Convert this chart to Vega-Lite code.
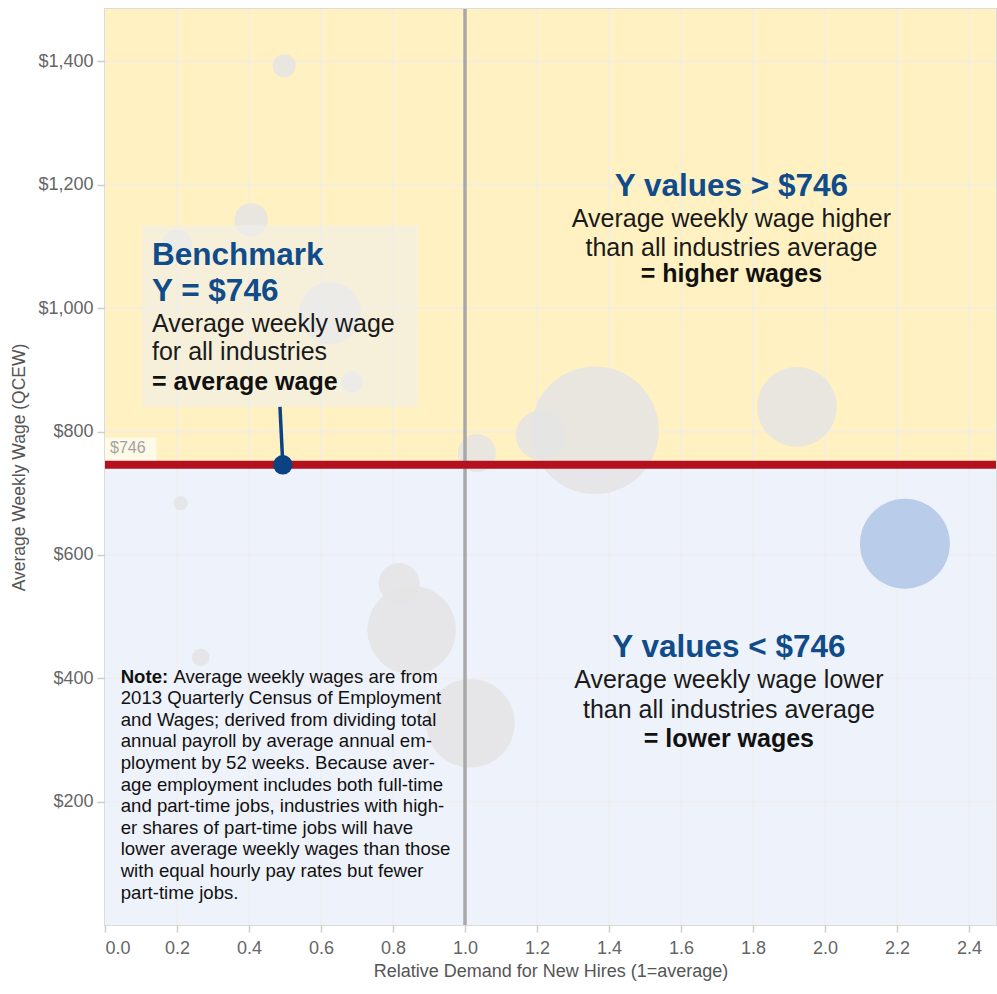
{
  "$schema": "https://vega.github.io/schema/vega-lite/v6.json",
  "width": 891,
  "height": 916,
  "autosize": "none",
  "padding": {"left": 105, "top": 9, "right": 1, "bottom": 69},
  "background": "white",
  "config": {
    "font": "Liberation Sans",
    "view": {"stroke": "#dcdcdc", "strokeWidth": 2}
  },
  "datasets": {
    "zones": [
      {"zone": "above", "x0": 0, "x1": 2.475, "y0": 746, "y1": 1485},
      {"zone": "below", "x0": 0, "x1": 2.475, "y0": 0, "y1": 746}
    ],
    "grid": [
      {"gx": 0.2}, {"gx": 0.4}, {"gx": 0.6}, {"gx": 0.8}, {"gx": 1.2}, {"gx": 1.4},
      {"gx": 1.6}, {"gx": 1.8}, {"gx": 2.0}, {"gx": 2.2}, {"gx": 2.4},
      {"gy": 200}, {"gy": 400}, {"gy": 600}, {"gy": 800}, {"gy": 1000}, {"gy": 1200}, {"gy": 1400}
    ],
    "industries": [
      {"id": 1, "demand": 1.361, "wage": 802, "employment": 2000, "group": "Other"},
      {"id": 2, "demand": 2.222, "wage": 618, "employment": 992, "group": "Highlighted"},
      {"id": 3, "demand": 0.852, "wage": 478, "employment": 965, "group": "Other"},
      {"id": 4, "demand": 1.015, "wage": 327, "employment": 965, "group": "Other"},
      {"id": 5, "demand": 1.922, "wage": 840, "employment": 781, "group": "Other"},
      {"id": 6, "demand": 0.625, "wage": 992, "employment": 473, "group": "Other"},
      {"id": 7, "demand": 1.21, "wage": 794, "employment": 302, "group": "Other"},
      {"id": 8, "demand": 0.817, "wage": 554, "employment": 204, "group": "Other"},
      {"id": 9, "demand": 1.033, "wage": 765, "employment": 178, "group": "Other"},
      {"id": 10, "demand": 0.406, "wage": 1143, "employment": 139, "group": "Other"},
      {"id": 11, "demand": 0.2, "wage": 1103, "employment": 111, "group": "Other"},
      {"id": 12, "demand": 0.498, "wage": 1393, "employment": 65, "group": "Other"},
      {"id": 13, "demand": 0.686, "wage": 880, "employment": 56, "group": "Other"},
      {"id": 14, "demand": 0.266, "wage": 434, "employment": 39, "group": "Other"},
      {"id": 15, "demand": 0.21, "wage": 684, "employment": 25, "group": "Other"}
    ],
    "labels": [
      {"k": "bh", "x": 0.1306, "y": 1070, "t": "Benchmark"},
      {"k": "bh", "x": 0.1306, "y": 1011, "t": "Y = $746"},
      {"k": "bb", "x": 0.1306, "y": 962, "t": "Average weekly wage"},
      {"k": "bb", "x": 0.1306, "y": 916, "t": "for all industries"},
      {"k": "bs", "x": 0.1306, "y": 868, "t": "= average wage"},
      {"k": "qh", "x": 1.74, "y": 1182, "t": "Y values > $746"},
      {"k": "qb", "x": 1.74, "y": 1132, "t": "Average weekly wage higher"},
      {"k": "qb", "x": 1.74, "y": 1084, "t": "than all industries average"},
      {"k": "qs", "x": 1.74, "y": 1043, "t": "= higher wages"},
      {"k": "qh", "x": 1.733, "y": 435, "t": "Y values < $746"},
      {"k": "qb", "x": 1.733, "y": 384, "t": "Average weekly wage lower"},
      {"k": "qb", "x": 1.733, "y": 335, "t": "than all industries average"},
      {"k": "qs", "x": 1.733, "y": 289, "t": "= lower wages"},
      {"k": "nb", "x": 0.0436, "y": 392.5, "t": "Note:"},
      {"k": "nr", "x": 0.19, "y": 392.5, "t": "Average weekly wages are from"},
      {"k": "nr", "x": 0.0436, "y": 357.8, "t": [
        "2013 Quarterly Census of Employment",
        "and Wages; derived from dividing total",
        "annual payroll by average annual em-",
        "ployment by 52 weeks. Because aver-",
        "age employment includes both full-time",
        "and part-time jobs, industries with high-",
        "er shares of part-time jobs will have",
        "lower average weekly wages than those",
        "with equal hourly pay rates but fewer",
        "part-time jobs."
      ]},
      {"k": "ref", "x": 0.0139, "y": 765.5, "t": "$746"}
    ]
  },
  "layer": [
    {
      "data": {"name": "zones"},
      "transform": [{"filter": "datum.zone === 'above'"}],
      "mark": {"type": "rect", "fill": "#fff1c2"},
      "encoding": {
        "x": {
          "field": "x0", "type": "quantitative",
          "scale": {"domain": [0, 2.475], "nice": false, "zero": false},
          "axis": {
            "title": "Relative Demand for New Hires (1=average)",
            "values": [0, 0.2, 0.4, 0.6, 0.8, 1.0, 1.2, 1.4, 1.6, 1.8, 2.0, 2.2, 2.4],
            "format": ".1f",
            "grid": false, "domain": false,
            "tickColor": "#cccccc", "tickSize": 7, "tickWidth": 1.5,
            "labelPadding": 7, "labelFontSize": 18, "labelColor": "#666666",
            "labelFont": "Liberation Sans",
            "titleFont": "Liberation Sans", "titleFontSize": 18, "titleFontWeight": "normal",
            "titleColor": "#555555", "titlePadding": 5
          }
        },
        "x2": {"field": "x1"},
        "y": {
          "field": "y0", "type": "quantitative",
          "scale": {"domain": [0, 1485], "nice": false, "zero": false},
          "axis": {
            "title": "Average Weekly Wage (QCEW)",
            "values": [200, 400, 600, 800, 1000, 1200, 1400],
            "format": "$,.0f",
            "grid": false, "domain": false,
            "tickColor": "#cccccc", "tickSize": 8, "tickWidth": 1.5,
            "labelPadding": 4, "labelFontSize": 18, "labelColor": "#666666",
            "labelFont": "Liberation Sans",
            "titleFont": "Liberation Sans", "titleFontSize": 17.5, "titleFontWeight": "normal",
            "titleColor": "#555555", "titlePadding": 9
          }
        },
        "y2": {"field": "y1"}
      }
    },
    {
      "data": {"name": "zones"},
      "transform": [{"filter": "datum.zone === 'below'"}],
      "mark": {"type": "rect", "fill": "#eef2fa"},
      "encoding": {
        "x": {"field": "x0", "type": "quantitative"},
        "x2": {"field": "x1"},
        "y": {"field": "y0", "type": "quantitative"},
        "y2": {"field": "y1"}
      }
    },
    {
      "data": {"name": "grid"},
      "transform": [{"filter": "isValid(datum.gx)"}],
      "mark": {"type": "rule", "color": "#ececec", "opacity": 0.6, "strokeWidth": 2},
      "encoding": {"x": {"field": "gx", "type": "quantitative"}}
    },
    {
      "data": {"name": "grid"},
      "transform": [{"filter": "isValid(datum.gy)"}],
      "mark": {"type": "rule", "color": "#ececec", "opacity": 0.6, "strokeWidth": 2},
      "encoding": {"y": {"field": "gy", "type": "quantitative"}}
    },
    {
      "data": {"name": "industries"},
      "mark": {"type": "circle", "opacity": 0.85, "strokeWidth": 0},
      "encoding": {
        "x": {"field": "demand", "type": "quantitative"},
        "y": {"field": "wage", "type": "quantitative"},
        "size": {
          "field": "employment", "type": "quantitative",
          "scale": {"type": "linear", "zero": true, "domain": [0, 2000], "range": [0, 16286]},
          "legend": null
        },
        "color": {
          "field": "group", "type": "nominal",
          "scale": {"domain": ["Other", "Highlighted"], "range": ["#e4e4e4", "#afc6e6"]},
          "legend": null
        },
        "order": {"field": "employment", "sort": "descending"}
      }
    },
    {
      "data": {"values": [{"x0": 0.103, "x1": 0.869, "y0": 840, "y1": 1134}]},
      "mark": {"type": "rect", "fill": "#eeeeee", "opacity": 0.55},
      "encoding": {
        "x": {"field": "x0", "type": "quantitative"},
        "x2": {"field": "x1"},
        "y": {"field": "y0", "type": "quantitative"},
        "y2": {"field": "y1"}
      }
    },
    {
      "data": {"values": [{"x0": 0, "x1": 0.143, "y0": 752, "y1": 790}]},
      "mark": {"type": "rect", "fill": "#ffffff", "opacity": 0.6},
      "encoding": {
        "x": {"field": "x0", "type": "quantitative"},
        "x2": {"field": "x1"},
        "y": {"field": "y0", "type": "quantitative"},
        "y2": {"field": "y1"}
      }
    },
    {
      "data": {"values": [{"ref": 1}]},
      "mark": {"type": "rule", "color": "#a8a8a8", "strokeWidth": 3.5},
      "encoding": {"x": {"field": "ref", "type": "quantitative"}}
    },
    {
      "data": {"values": [{"bench": 746}]},
      "mark": {"type": "rule", "color": "#b3111e", "strokeWidth": 8},
      "encoding": {"y": {"field": "bench", "type": "quantitative"}}
    },
    {
      "data": {"values": [{"x": 0.486, "y": 840, "o": 1}, {"x": 0.494, "y": 746, "o": 2}]},
      "mark": {"type": "line", "color": "#0b4382", "strokeWidth": 3.5},
      "encoding": {
        "x": {"field": "x", "type": "quantitative"},
        "y": {"field": "y", "type": "quantitative"},
        "order": {"field": "o"}
      }
    },
    {
      "data": {"values": [{"x": 0.494, "y": 746}]},
      "mark": {"type": "circle", "color": "#0b4382", "opacity": 1, "size": 380},
      "encoding": {
        "x": {"field": "x", "type": "quantitative"},
        "y": {"field": "y", "type": "quantitative"}
      }
    },
    {
      "data": {"name": "labels"},
      "transform": [{"filter": "datum.k === 'bh'"}],
      "mark": {"type": "text", "align": "left", "baseline": "alphabetic", "fontSize": 31.5, "fontWeight": "bold", "color": "#104b8a"},
      "encoding": {
        "x": {"field": "x", "type": "quantitative"},
        "y": {"field": "y", "type": "quantitative"},
        "text": {"field": "t", "type": "nominal"}
      }
    },
    {
      "data": {"name": "labels"},
      "transform": [{"filter": "datum.k === 'bb'"}],
      "mark": {"type": "text", "align": "left", "baseline": "alphabetic", "fontSize": 25, "color": "#1a1a1a"},
      "encoding": {
        "x": {"field": "x", "type": "quantitative"},
        "y": {"field": "y", "type": "quantitative"},
        "text": {"field": "t", "type": "nominal"}
      }
    },
    {
      "data": {"name": "labels"},
      "transform": [{"filter": "datum.k === 'bs'"}],
      "mark": {"type": "text", "align": "left", "baseline": "alphabetic", "fontSize": 25, "fontWeight": "bold", "color": "#111111"},
      "encoding": {
        "x": {"field": "x", "type": "quantitative"},
        "y": {"field": "y", "type": "quantitative"},
        "text": {"field": "t", "type": "nominal"}
      }
    },
    {
      "data": {"name": "labels"},
      "transform": [{"filter": "datum.k === 'qh'"}],
      "mark": {"type": "text", "align": "center", "baseline": "alphabetic", "fontSize": 31.5, "fontWeight": "bold", "color": "#104b8a"},
      "encoding": {
        "x": {"field": "x", "type": "quantitative"},
        "y": {"field": "y", "type": "quantitative"},
        "text": {"field": "t", "type": "nominal"}
      }
    },
    {
      "data": {"name": "labels"},
      "transform": [{"filter": "datum.k === 'qb'"}],
      "mark": {"type": "text", "align": "center", "baseline": "alphabetic", "fontSize": 25, "color": "#1a1a1a"},
      "encoding": {
        "x": {"field": "x", "type": "quantitative"},
        "y": {"field": "y", "type": "quantitative"},
        "text": {"field": "t", "type": "nominal"}
      }
    },
    {
      "data": {"name": "labels"},
      "transform": [{"filter": "datum.k === 'qs'"}],
      "mark": {"type": "text", "align": "center", "baseline": "alphabetic", "fontSize": 25, "fontWeight": "bold", "color": "#111111"},
      "encoding": {
        "x": {"field": "x", "type": "quantitative"},
        "y": {"field": "y", "type": "quantitative"},
        "text": {"field": "t", "type": "nominal"}
      }
    },
    {
      "data": {"name": "labels"},
      "transform": [{"filter": "datum.k === 'nb'"}],
      "mark": {"type": "text", "align": "left", "baseline": "alphabetic", "fontSize": 18.6, "fontWeight": "bold", "color": "#111111"},
      "encoding": {
        "x": {"field": "x", "type": "quantitative"},
        "y": {"field": "y", "type": "quantitative"},
        "text": {"field": "t", "type": "nominal"}
      }
    },
    {
      "data": {"name": "labels"},
      "transform": [{"filter": "datum.k === 'nr'"}],
      "mark": {"type": "text", "align": "left", "baseline": "alphabetic", "fontSize": 18.6, "lineHeight": 21.6, "color": "#111111"},
      "encoding": {
        "x": {"field": "x", "type": "quantitative"},
        "y": {"field": "y", "type": "quantitative"},
        "text": {"field": "t", "type": "nominal"}
      }
    },
    {
      "data": {"name": "labels"},
      "transform": [{"filter": "datum.k === 'ref'"}],
      "mark": {"type": "text", "align": "left", "baseline": "alphabetic", "fontSize": 16, "color": "#a3a3a3"},
      "encoding": {
        "x": {"field": "x", "type": "quantitative"},
        "y": {"field": "y", "type": "quantitative"},
        "text": {"field": "t", "type": "nominal"}
      }
    }
  ]
}
